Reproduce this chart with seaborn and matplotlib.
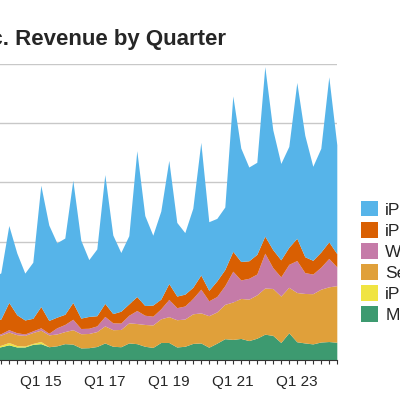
import matplotlib
matplotlib.use("Agg")
import matplotlib.pyplot as plt
import seaborn as sns
import numpy as np

sns.set_style("white")
plt.rcParams['font.family'] = ['Liberation Sans', 'DejaVu Sans']

quarters = [f"Q{q} {y:02d}" for y in range(13, 25) for q in range(1, 5)][:46]
iphone = [30.7,22.9,18.2,19.5, 32.5,26.1,19.8,23.7, 51.2,40.3,31.4,32.2, 51.6,32.9,24.0,28.2,
          54.4,33.2,24.8,28.8, 61.6,38.0,29.5,37.2, 52.0,31.1,26.0,33.4, 56.0,29.0,26.4,26.4,
          65.6,47.9,39.6,38.9, 71.6,50.6,40.7,42.6, 65.8,51.3,39.7,43.8, 69.7,46.0]
ipad = [10.7,8.7,6.4,6.2, 11.5,7.6,5.9,5.3, 9.0,5.4,4.5,4.3, 7.1,4.4,5.0,4.3,
        5.5,3.9,5.0,4.8, 5.9,4.1,4.7,4.1, 6.7,4.9,5.0,4.7, 6.0,4.4,6.6,6.8,
        8.4,7.8,7.4,8.3, 7.2,7.6,7.2,7.2, 9.4,6.7,5.8,6.4, 7.0,5.6]
wearables = [1.0,0.7,0.6,0.6, 1.0,0.8,0.6,0.7, 1.0,0.7,2.6,3.0, 4.4,2.2,2.2,2.4,
             4.0,2.9,2.7,3.2, 5.5,3.9,3.7,4.2, 7.3,5.1,5.5,6.5, 10.0,6.3,6.5,7.9,
             13.0,7.8,8.8,8.8, 14.7,8.8,8.1,9.7, 13.5,8.8,8.3,9.3, 12.0,7.9]
services = [4.1,4.4,4.0,4.3, 4.4,4.6,4.5,4.6, 4.8,5.0,5.0,5.1, 6.1,6.0,6.0,6.3,
            7.2,7.0,7.3,8.5, 8.5,9.2,9.5,10.0, 10.9,11.5,11.5,12.5, 12.7,13.3,13.2,14.5,
            15.8,16.9,17.5,18.3, 19.5,19.8,19.6,19.2, 20.8,20.9,21.2,22.3, 23.1,23.9]
ipod = [3.5,1.0,0.7,0.6, 1.0,0.6,0.4,0.4, 0.9] + [0.0] * 37
mac = [5.5,5.4,4.9,5.6, 6.4,5.5,5.5,6.6, 6.9,5.6,6.0,6.9, 6.7,5.1,5.2,5.7,
       7.2,5.8,5.6,7.2, 6.9,5.8,5.3,7.4, 7.4,5.5,5.8,7.0, 7.2,5.4,7.1,9.0,
       8.7,9.1,8.2,9.2, 10.9,10.4,7.4,11.5, 7.7,7.2,6.8,7.6, 7.8,7.5]
labels = ["Mac", "iPod", "Services", "Wearables, Home and Accessories", "iPad", "iPhone"]
colors = ["#3D9A70", "#F0E442", "#E0A03A", "#C57BA8", "#D95F02", "#56B4E9"]

fig = plt.figure(figsize=(4, 4), dpi=100)
ax = fig.add_axes([-0.058, 0.1, 0.9, 0.74])
x = np.arange(len(quarters))
ax.stackplot(x, mac, ipod, services, wearables, ipad, iphone, colors=colors, labels=labels, lw=0)
ax.set_xlim(0, len(quarters) - 1)
ax.set_ylim(0, 125)
ax.set_yticks([0, 25, 50, 75, 100, 125])
ax.set_yticklabels([])
ax.yaxis.grid(True, color="#c8c8c8", lw=1)
ax.set_axisbelow(True)
ax.set_xticks(x)
ax.set_xticklabels([q if (q.startswith("Q1") and int(q[-2:]) % 2 == 1) else "" for q in quarters], fontsize=11)
ax.tick_params(axis="x", length=3, width=0.8, color="#333333", direction="out", bottom=True, pad=8)
for s in ["top", "left", "right"]:
    ax.spines[s].set_visible(False)
ax.spines["bottom"].set_color("#333333")
h, l = ax.get_legend_handles_labels()
fig.legend(h[::-1], l[::-1], loc="upper left", bbox_to_anchor=(0.885, 0.515), frameon=False,
           fontsize=12.5, handlelength=1.0, handleheight=1.0, labelspacing=0.25, handletextpad=0.4, borderaxespad=0)
fig.text(0.565, 0.9, "Apple Inc. Revenue by Quarter", ha="right", va="center", fontsize=16, fontweight="bold")
fig.savefig("out.png", dpi=100)
